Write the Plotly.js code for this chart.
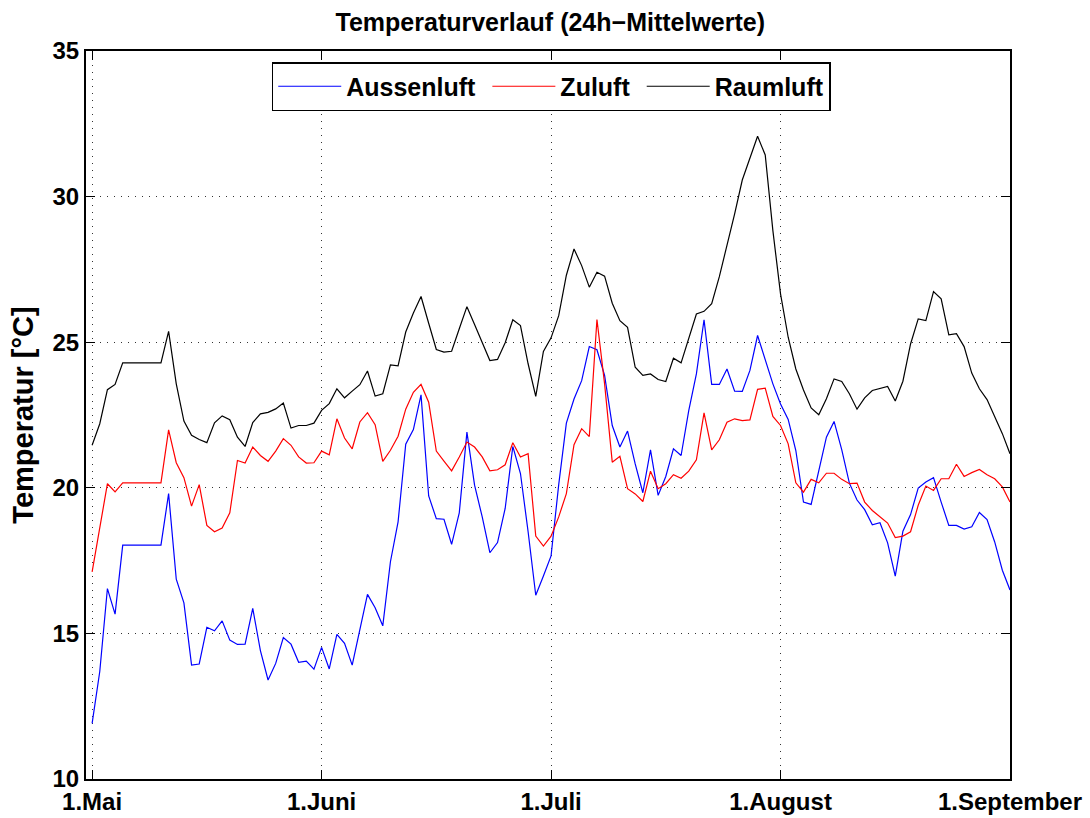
<!DOCTYPE html>
<html>
<head>
<meta charset="utf-8">
<script src="https://cdn.plot.ly/plotly-3.0.1.min.js"></script>
<style>
  html, body { margin: 0; padding: 0; background: #fff; }
  #chart { width: 1090px; height: 818px; }
</style>
</head>
<body>
<div id="chart"></div>
<script>
// Daily (24h) mean temperatures in °C, one value per day starting 1 May.
const Aussenluft = [
  11.91, 13.69, 16.54, 15.66, 18.03, 18.03, 18.03, 18.03, 18.03, 18.03,
  19.80, 16.86, 16.05, 13.91, 13.95, 15.21, 15.09, 15.43, 14.77, 14.62,
  14.63, 15.86, 14.41, 13.40, 13.97, 14.86, 14.63, 14.01, 14.05, 13.77,
  14.52, 13.78, 14.97, 14.66, 13.91, 15.11, 16.34, 15.88, 15.26, 17.46,
  18.83, 21.50, 22.00, 23.19, 19.72, 18.94, 18.92, 18.06, 19.14, 21.91,
  20.09, 19.00, 17.77, 18.12, 19.29, 21.42, 20.49, 18.49, 16.31, 16.97,
  17.66, 20.11, 22.22, 23.05, 23.68, 24.85, 24.74, 23.86, 22.14, 21.40,
  21.95, 20.82, 19.83, 21.30, 19.74, 20.39, 21.34, 21.11, 22.65, 23.91,
  25.77, 23.55, 23.55, 24.08, 23.32, 23.31, 24.03, 25.23, 24.37, 23.57,
  22.88, 22.35, 21.28, 19.51, 19.43, 20.54, 21.74, 22.28, 21.31, 20.16,
  19.58, 19.25, 18.73, 18.80, 18.11, 16.97, 18.51, 19.08, 19.99, 20.20,
  20.35, 19.51, 18.71, 18.71, 18.58, 18.66, 19.15, 18.91, 18.14, 17.17,
  16.49
];
const Zuluft = [
  17.11, 18.66, 20.14, 19.86, 20.17, 20.17, 20.17, 20.17, 20.17, 20.17,
  21.99, 20.86, 20.35, 19.37, 20.11, 18.71, 18.49, 18.62, 19.14, 20.94,
  20.85, 21.40, 21.11, 20.91, 21.26, 21.69, 21.46, 21.06, 20.85, 20.86,
  21.26, 21.13, 22.37, 21.71, 21.34, 22.26, 22.58, 22.17, 20.91, 21.29,
  21.77, 22.70, 23.28, 23.55, 22.94, 21.26, 20.92, 20.58, 21.06, 21.57,
  21.40, 21.06, 20.58, 20.62, 20.79, 21.55, 21.06, 21.17, 18.34, 18.00,
  18.34, 19.00, 19.80, 21.48, 22.03, 21.76, 25.78, 23.57, 20.88, 21.08,
  19.97, 19.79, 19.53, 20.57, 19.97, 20.14, 20.45, 20.33, 20.57, 20.96,
  22.57, 21.30, 21.65, 22.25, 22.37, 22.31, 22.33, 23.38, 23.42, 22.45,
  22.14, 21.51, 20.17, 19.85, 20.29, 20.17, 20.50, 20.50, 20.29, 20.14,
  20.16, 19.51, 19.22, 19.00, 18.79, 18.29, 18.34, 18.49, 19.40, 20.06,
  19.91, 20.31, 20.31, 20.81, 20.39, 20.52, 20.63, 20.45, 20.31, 20.03,
  19.51
];
const Raumluft = [
  21.46, 22.20, 23.37, 23.55, 24.29, 24.29, 24.29, 24.29, 24.29, 24.29,
  25.37, 23.57, 22.29, 21.80, 21.66, 21.55, 22.23, 22.47, 22.34, 21.74,
  21.42, 22.24, 22.54, 22.59, 22.71, 22.91, 22.05, 22.14, 22.14, 22.22,
  22.66, 22.89, 23.40, 23.09, 23.32, 23.54, 24.01, 23.15, 23.23, 24.22,
  24.19, 25.35, 26.00, 26.57, 25.65, 24.75, 24.66, 24.69, 25.46, 26.22,
  25.61, 25.00, 24.37, 24.41, 24.98, 25.77, 25.57, 24.26, 23.14, 24.68,
  25.15, 25.91, 27.30, 28.20, 27.63, 26.89, 27.40, 27.27, 26.34, 25.74,
  25.51, 24.14, 23.86, 23.91, 23.72, 23.65, 24.45, 24.29, 25.11, 25.97,
  26.06, 26.32, 27.25, 28.32, 29.41, 30.57, 31.33, 32.07, 31.43, 28.83,
  26.66, 25.17, 24.08, 23.36, 22.74, 22.51, 23.06, 23.74, 23.65, 23.23,
  22.70, 23.09, 23.34, 23.40, 23.48, 22.98, 23.66, 24.94, 25.80, 25.74,
  26.74, 26.49, 25.25, 25.29, 24.85, 23.94, 23.40, 23.03, 22.43, 21.86,
  21.17
];

// Month ticks (every 30 days on the day-index axis)
const monthTickDays = [0, 30, 60, 90, 120];
const monthTickLabels = ['1.Mai', '1.Juni', '1.Juli', '1.August', '1.September'];
const tempTicks = [10, 15, 20, 25, 30, 35];

const days = Aussenluft.map((_, i) => i);

const FONT = 'Liberation Sans, Arial, Helvetica, sans-serif';
const NBSP = '\u00a0';

const series = [
  { name: 'Aussenluft', y: Aussenluft, color: '#0000ff', pad: NBSP },
  { name: 'Zuluft', y: Zuluft, color: '#ff0000', pad: NBSP },
  { name: 'Raumluft', y: Raumluft, color: '#000000', pad: '' }
];

const traces = series.map(s => ({
  type: 'scatter',
  mode: 'lines',
  name: s.name + s.pad,
  x: days,
  y: s.y,
  line: { color: s.color, width: 1.2 },
  hovertemplate: s.name + ': %{y:.1f} °C<extra></extra>'
}));

const axisCommon = {
  showline: true,
  linecolor: '#000',
  linewidth: 2,
  mirror: 'ticks',
  ticks: 'inside',
  ticklen: 9,
  tickwidth: 1,
  tickcolor: '#000',
  showgrid: true,
  gridcolor: '#333',
  gridwidth: 1,
  griddash: '1px,6px',
  zeroline: false,
  tickfont: { family: FONT, size: 24, color: '#000', weight: 'bold' }
};

const layout = {
  width: 1090,
  height: 818,
  paper_bgcolor: '#fff',
  plot_bgcolor: '#fff',
  margin: { l: 86, r: 80, t: 51, b: 39 },
  showlegend: true,
  title: {
    text: 'Temperaturverlauf (24h\u2212Mittelwerte)',
    font: { family: FONT, size: 25, color: '#000', weight: 'bold' },
    x: 0.5025,
    xref: 'paper',
    xanchor: 'center',
    y: 1 - 22 / 818,
    yref: 'container',
    yanchor: 'middle'
  },
  xaxis: Object.assign({}, axisCommon, {
    range: [-0.8, 120],
    tickmode: 'array',
    tickvals: monthTickDays,
    ticktext: monthTickLabels
  }),
  yaxis: Object.assign({}, axisCommon, {
    range: [10, 35],
    tickmode: 'array',
    tickvals: tempTicks,
    ticktext: tempTicks.map(String),
    title: {
      text: 'Temperatur [°C]',
      font: { family: FONT, size: 29, color: '#000', weight: 'bold' },
      standoff: 10
    }
  }),
  legend: {
    orientation: 'h',
    x: 0.5035,
    xanchor: 'center',
    y: (779 - 62) / 728,
    yanchor: 'top',
    bgcolor: '#fff',
    bordercolor: '#000',
    borderwidth: 1.5,
    itemwidth: 63,
    font: { family: FONT, size: 25, color: '#000', weight: 'bold' }
  }
};

Plotly.newPlot('chart', traces, layout, { displayModeBar: false, responsive: false });
</script>
</body>
</html>
